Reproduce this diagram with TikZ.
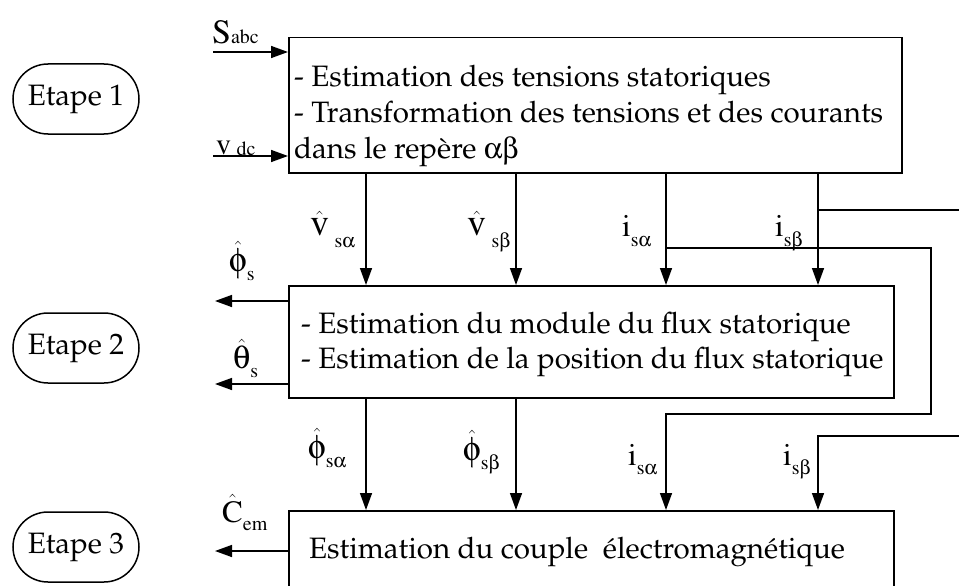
\documentclass[tikz,border=0pt]{standalone}
\usepackage[T1]{fontenc}
\usepackage{pifont}
\usetikzlibrary{arrows.meta,shapes.misc}
\newcommand{\gr}[1]{\Pisymbol{psy}{#1}}
\newcommand{\hatt}[1]{\ensuremath{\hat{\mbox{#1}}}}
\newcommand{\subs}[2]{\raisebox{-#1}{\fontsize{20}{20}\selectfont #2}}
\newcommand{\fs}[1]{\fontsize{#1}{#1}\selectfont}
\tikzset{
  box/.style={draw, line width=1.5pt, rectangle, inner sep=0pt, anchor=north west},
  txt/.style={font=\fontfamily{ppl}\fontsize{29.5}{34}\selectfont, inner sep=0pt, anchor=base west},
  lab/.style={font=\fontfamily{ptm}\fontsize{32}{32}\selectfont, inner sep=0pt, anchor=base west},
  arr/.style={line width=1.5pt, -{Triangle[length=17pt,width=12pt]}},
  wire/.style={line width=1.5pt},
  etape/.style={rounded rectangle, draw, line width=1.5pt, minimum width=126pt, minimum height=70pt, inner sep=0pt, font=\fontfamily{ppl}\fontsize{29.5}{34}\selectfont}
}
\begin{document}
\begin{tikzpicture}[x=1pt,y=-1pt]
\useasboundingbox (0,0) rectangle (959,586);
\clip (0,0) rectangle (959,586);
% stage labels
\node[etape] (e1) at (76,99) {Etape 1};
\node[etape] (e2) at (76,348) {Etape 2};
\node[etape] (e3) at (76,547) {Etape 3};
% boxes
\node[box, minimum width=613pt, minimum height=135pt] (b1) at (288,37) {};
\node[box, minimum width=605pt, minimum height=112pt] (b2) at (288,285) {};
\node[box, minimum width=605pt, minimum height=130pt] (b3) at (288,510) {};
% box texts
\node[txt] (t1a) at (294,87) {- Estimation des tensions statoriques};
\node[txt] (t1b) at (294,122) {- Transformation des tensions et des courants};
\node[txt] (t1c) at (294,158) {dans le rep\`ere \gr{97}\gr{98}};
\node[txt] (t2a) at (301,333) {- Estimation du module du flux statorique};
\node[txt] (t2b) at (301,368) {- Estimation de la position du flux statorique};
\node[txt] (t3) at (309,558) {Estimation du couple~ \'electromagn\'etique};
% coordinates
\coordinate (xa) at (366,0);
\coordinate (xb) at (516,0);
\coordinate (xc) at (666,0);
\coordinate (xd) at (818,0);
\coordinate (sa) at (213,52);
\coordinate (sb) at (213,156);
\coordinate (la) at (215,301);
\coordinate (lb) at (215,384);
\coordinate (lc) at (215,551);
\coordinate (ja) at (666,248);
\coordinate (jb) at (931,248);
\coordinate (jc) at (931,414);
\coordinate (jd) at (666,414);
\coordinate (ka) at (818,210);
\coordinate (kb) at (959,210);
\coordinate (kc) at (959,436);
\coordinate (kd) at (818,436);
% inputs
\draw[arr] (sa) -- (b1.west |- sa);
\draw[arr] (sb) -- (b1.west |- sb);
% box1 -> box2
\draw[arr] (b1.south -| xa) -- (b2.north -| xa);
\draw[arr] (b1.south -| xb) -- (b2.north -| xb);
\draw[arr] (b1.south -| xc) -- (b2.north -| xc);
\draw[arr] (b1.south -| xd) -- (b2.north -| xd);
% box2 -> box3
\draw[arr] (b2.south -| xa) -- (b3.north -| xa);
\draw[arr] (b2.south -| xb) -- (b3.north -| xb);
% current feedthrough
\draw[arr] (ja) -- (jb) -- (jc) -- (jd) -- (b3.north -| xc);
\draw[wire] (ka) -- (kb);
\draw[arr] (kc) -- (kd) -- (b3.north -| xd);
% outputs
\draw[arr] (b2.west |- la) -- (la);
\draw[arr] (b2.west |- lb) -- (lb);
\draw[arr] (b3.west |- lc) -- (lc);
% labels
\node[lab] (lsabc) at (212,44) {{\fs{34}S}\subs{0pt}{abc}};
\node[lab] (lvdc) at (216,154) {{\fs{30}v}\,\subs{1pt}{dc}};
\node[lab] (lvsa) at (310,235) {{\fs{38}\hatt{v}}\,\subs{12pt}{s\gr{97}}};
\node[lab] (lvsb) at (467,235) {{\fs{38}\hatt{v}}\,\subs{12pt}{s\gr{98}}};
\node[lab] (lisa1) at (622,236) {{\fs{31}i}\subs{10pt}{s\gr{97}}};
\node[lab] (lisb1) at (775,236) {{\fs{31}i}\subs{10pt}{s\gr{98}}};
\node[lab] (lphis) at (229,271) {{\fs{34}\hatt{\gr{102}}}\subs{9pt}{s}};
\node[lab] (lths) at (233,368) {{\fs{33}\hatt{\gr{113}}}\subs{9pt}{s}};
\node[lab] (lphisa) at (308,458) {{\fs{34}\hatt{\gr{102}}}\subs{9pt}{s\gr{97}}};
\node[lab] (lphisb) at (463,460) {{\fs{34}\hatt{\gr{102}}}\subs{9pt}{s\gr{98}}};
\node[lab] (lisa2) at (628,465) {{\fs{31}i}\subs{9pt}{s\gr{97}}};
\node[lab] (lisb2) at (783,465) {{\fs{31}i}\subs{9pt}{s\gr{98}}};
\node[lab] (lcem) at (222,522) {{\fs{31}\hatt{C}}\subs{8pt}{em}};
\end{tikzpicture}
\end{document}
